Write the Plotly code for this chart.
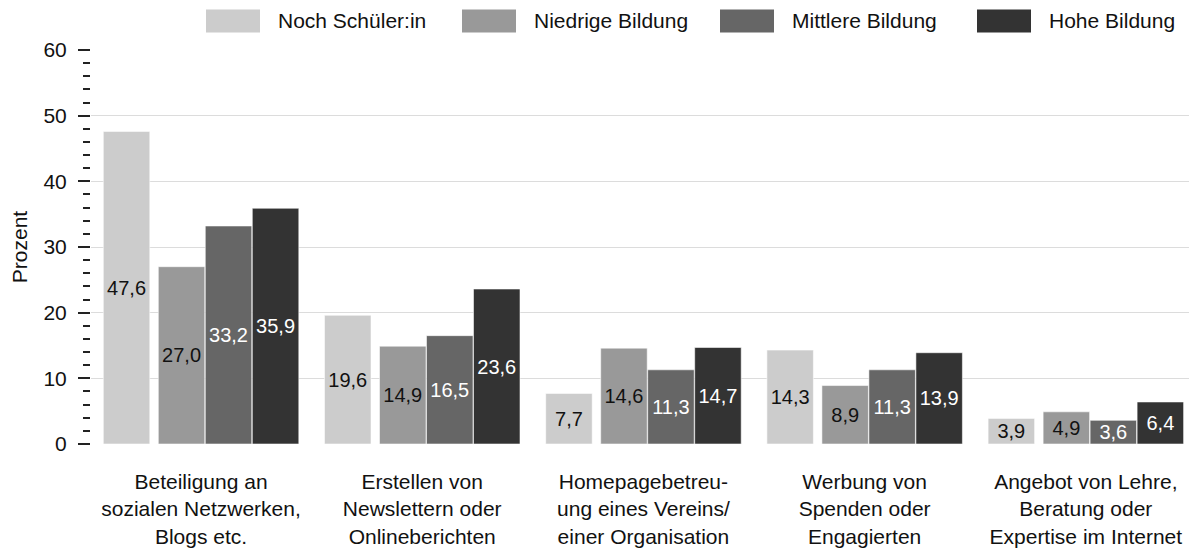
import plotly.graph_objects as go

# --- data -------------------------------------------------------------
categories = [
    "Beteiligung an<br>sozialen Netzwerken,<br>Blogs etc.",
    "Erstellen von<br>Newslettern oder<br>Onlineberichten",
    "Homepagebetreu-<br>ung eines Vereins/<br>einer Organisation",
    "Werbung von<br>Spenden oder<br>Engagierten",
    "Angebot von Lehre,<br>Beratung oder<br>Expertise im Internet",
]
series_names = ["Noch Schüler:in", "Niedrige Bildung", "Mittlere Bildung", "Hohe Bildung"]
noch_schueler = [47.6, 19.6, 7.7, 14.3, 3.9]
niedrige_bildung = [27.0, 14.9, 14.6, 8.9, 4.9]
mittlere_bildung = [33.2, 16.5, 11.3, 11.3, 3.6]
hohe_bildung = [35.9, 23.6, 14.7, 13.9, 6.4]
series_values = [noch_schueler, niedrige_bildung, mittlere_bildung, hohe_bildung]
y_ticks = [0, 10, 20, 30, 40, 50, 60]

# --- styling ------------------------------------------------------------
FONT = "Liberation Sans, Arial, sans-serif"
FS = 21
colors = ["#cccccc", "#999999", "#666666", "#333333"]
label_colors = ["#111111", "#111111", "#ffffff", "#ffffff"]
bar_offsets = [-0.4417, -0.1930, 0.0194, 0.2319]
bar_width = 0.2102

W, H = 1189, 549
M_L, M_R, M_T, M_B = 91, 0, 49.5, 105
PW, PH = W - M_L - M_R, H - M_T - M_B


def fmt(v):
    return f"{v:.1f}".replace(".", ",")


def paper_x(px):
    return (px - M_L) / PW


def paper_y(py):
    return (H - M_B - py) / PH


fig = go.Figure()
xs = list(range(len(categories)))
for name, vals, col, lcol, off in zip(series_names, series_values, colors, label_colors, bar_offsets):
    fig.add_trace(go.Bar(
        x=xs, y=vals, name=name,
        offset=off, width=bar_width,
        marker=dict(color=col, line=dict(color="rgba(255,255,255,0.55)", width=1)),
        text=[fmt(v) for v in vals],
        textposition="inside", insidetextanchor="middle",
        constraintext="none", textangle=0,
        textfont=dict(family=FONT, size=FS - 1, color=lcol),
        showlegend=False, hoverinfo="skip",
    ))

# legend drawn as large swatches with labels
legend_left = [206, 462, 720, 977]
shapes = []
annotations = []
for name, col, lx in zip(series_names, colors, legend_left):
    shapes.append(dict(type="rect", xref="paper", yref="paper",
                       x0=paper_x(lx), x1=paper_x(lx + 54),
                       y0=paper_y(32), y1=paper_y(9),
                       fillcolor=col, line=dict(width=0)))
    annotations.append(dict(xref="paper", yref="paper", x=paper_x(lx + 70), y=paper_y(20),
                            text=name, showarrow=False, xanchor="left", yanchor="middle",
                            font=dict(family=FONT, size=FS, color="#111111")))

fig.update_layout(
    width=W, height=H,
    margin=dict(l=M_L, r=M_R, t=M_T, b=M_B, pad=0),
    paper_bgcolor="white", plot_bgcolor="white",
    barmode="overlay",
    font=dict(family=FONT, size=FS, color="#111111"),
    shapes=shapes, annotations=annotations,
    xaxis=dict(
        range=[-0.4973, 4.4665], tickmode="array", tickvals=xs, ticktext=categories,
        showgrid=False, zeroline=False, showline=False, ticks="",
        tickfont=dict(family=FONT, size=FS, color="#111111"),
        ticklabelstandoff=23,
    ),
    yaxis=dict(
        range=[0, 60], tickmode="array", tickvals=y_ticks,
        ticks="outside", ticklen=12, tickwidth=2, tickcolor="#222222",
        ticklabelstandoff=7,
        showgrid=True, gridcolor="#dcdcdc", gridwidth=1,
        zeroline=False, showline=False,
        minor=dict(dtick=2, ticks="outside", ticklen=7, tickwidth=2, tickcolor="#222222", showgrid=False),
        tickfont=dict(family=FONT, size=FS, color="#111111"),
        title=dict(text="Prozent", font=dict(family=FONT, size=FS, color="#111111"), standoff=10),
    ),
)

fig.write_html("out.html")
